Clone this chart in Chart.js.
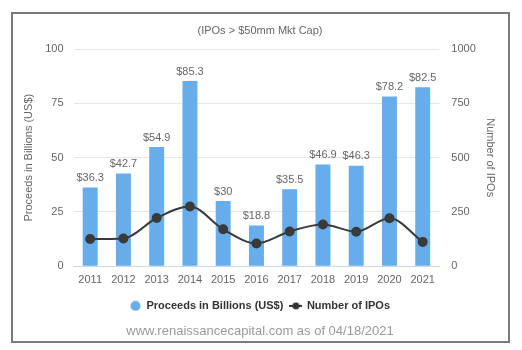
<!DOCTYPE html>
<html>
<head>
<meta charset="utf-8">
<script src="https://cdn.jsdelivr.net/npm/chart.js@4/dist/chart.umd.min.js"></script>
<style>
  html, body { margin: 0; padding: 0; background: #fff; }
  #wrap { position: relative; width: 522px; height: 350px; }
  #frame { position: absolute; left: 11px; top: 12px; width: 499px; height: 331px; border: 2px solid #7a7a7a; box-sizing: border-box; }
  canvas { position: absolute; left: 0; top: 0; }
</style>
</head>
<body>
<div id="wrap">
  <div id="frame"></div>
  <canvas id="c" width="522" height="350"></canvas>
</div>
<script>
const years = ['2011','2012','2013','2014','2015','2016','2017','2018','2019','2020','2021'];
const proceeds = [36.3, 42.7, 54.9, 85.3, 30, 18.8, 35.5, 46.9, 46.3, 78.2, 82.5];
const ipoCounts = [125, 128, 222, 275, 170, 105, 160, 192, 159, 221, 112];
const leftTicks = [0, 25, 50, 75, 100];
const rightTicks = [0, 250, 500, 750, 1000];
const titleText = '(IPOs > $50mm Mkt Cap)';
const footerText = 'www.renaissancecapital.com as of 04/18/2021';

const FONT = '"Liberation Sans", "DejaVu Sans", sans-serif';
const BAR_COLOR = '#67adec';
const LINE_COLOR = '#3a3a3a';

// legend icon for the line series: line with dot
const lineIcon = document.createElement('canvas');
lineIcon.width = 13; lineIcon.height = 10;
(function(){
  const g = lineIcon.getContext('2d');
  g.strokeStyle = '#333'; g.lineWidth = 2;
  g.beginPath(); g.moveTo(0,5); g.lineTo(13,5); g.stroke();
  g.fillStyle = '#333'; g.beginPath(); g.arc(6.5,5,3.5,0,Math.PI*2); g.fill();
})();
// legend icon for the bar series: round dot
const dotIcon = document.createElement('canvas');
dotIcon.width = 11; dotIcon.height = 11;
(function(){
  const g = dotIcon.getContext('2d');
  g.fillStyle = BAR_COLOR; g.beginPath(); g.arc(5.5,5.5,5,0,Math.PI*2); g.fill();
})();

const barLabels = {
  id: 'barLabels',
  afterDatasetsDraw(chart) {
    const ctx = chart.ctx;
    const meta = chart.getDatasetMeta(1);
    ctx.save();
    ctx.font = '11px ' + FONT;
    ctx.fillStyle = '#666';
    ctx.textAlign = 'center';
    ctx.textBaseline = 'bottom';
    meta.data.forEach((el, i) => {
      ctx.fillText('$' + proceeds[i], el.x, el.y - 4);
    });
    ctx.restore();
  }
};

new Chart(document.getElementById('c'), {
  data: {
    labels: years,
    datasets: [
      {
        type: 'line',
        label: 'Number of IPOs',
        data: ipoCounts,
        yAxisID: 'y1',
        borderColor: LINE_COLOR,
        backgroundColor: LINE_COLOR,
        borderWidth: 2,
        pointRadius: 4,
        pointBackgroundColor: LINE_COLOR,
        tension: 0.4,
        cubicInterpolationMode: 'monotone',
        order: 0
      },
      {
        type: 'bar',
        label: 'Proceeds in Billions (US$)',
        data: proceeds,
        yAxisID: 'y',
        backgroundColor: BAR_COLOR,
        categoryPercentage: 0.9,
        barPercentage: 0.5,
        order: 1
      }
    ]
  },
  options: {
    responsive: false,
    animation: false,
    layout: { padding: { left: 18, right: 20, top: 24, bottom: 7 } },
    scales: {
      x: {
        grid: { display: false, drawTicks: false },
        border: { color: '#ccd6eb' },
        ticks: { color: '#666', font: { family: FONT, size: 11 }, padding: 7 }
      },
      y: {
        position: 'left',
        min: 0, max: 100,
        afterBuildTicks(ax) { ax.ticks = leftTicks.map(v => ({ value: v })); },
        grid: { color: '#e6e6e6', drawTicks: false },
        border: { display: false },
        ticks: { color: '#666', font: { family: FONT, size: 11 }, padding: 10 },
        title: { display: true, text: 'Proceeds in Billions (US$)', color: '#666', font: { family: FONT, size: 11 }, padding: { top: 4, bottom: 0 } }
      },
      y1: {
        position: 'right',
        min: 0, max: 1000,
        afterBuildTicks(ax) { ax.ticks = rightTicks.map(v => ({ value: v })); },
        grid: { display: false, drawTicks: false },
        border: { display: false },
        ticks: { color: '#666', font: { family: FONT, size: 11 }, padding: 12, callback: v => String(v) },
        title: { display: true, text: 'Number of IPOs', color: '#666', font: { family: FONT, size: 11 }, padding: { top: 5, bottom: -4 } }
      }
    },
    plugins: {
      title: { display: true, text: titleText, color: '#666', font: { family: FONT, size: 11, weight: 'normal' }, padding: { top: 0, bottom: 12 } },
      subtitle: { display: true, position: 'bottom', text: footerText, color: '#999', font: { family: FONT, size: 13 }, padding: { top: 2, bottom: 4 } },
      legend: {
        position: 'bottom',
        reverse: true,
        labels: {
          color: '#333',
          font: { family: FONT, size: 11, weight: 'bold' },
          usePointStyle: true,
          boxHeight: 7,
          pointStyleWidth: 11,
          padding: 7,
          generateLabels(chart) {
            const items = Chart.defaults.plugins.legend.labels.generateLabels(chart);
            items.forEach(it => {
              it.pointStyle = it.datasetIndex === 0 ? lineIcon : dotIcon;
            });
            return items;
          }
        }
      },
      tooltip: { enabled: false }
    }
  },
  plugins: [barLabels]
});
</script>
</body>
</html>
